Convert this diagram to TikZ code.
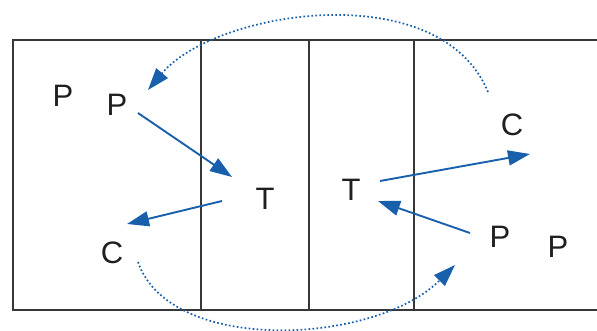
\documentclass[tikz,border=0pt]{standalone}
\usepackage{fontspec}
\setmainfont{Liberation Sans}
\usetikzlibrary{arrows.meta}
\definecolor{moveblue}{RGB}{25,96,172}
\definecolor{courtgray}{RGB}{55,55,55}

\begin{document}
\begin{tikzpicture}[
	x=1pt, y=-1pt,
	every node/.style={font=\fontsize{31}{36}\selectfont, text=black!88, inner sep=2pt},
	court/.style={draw=courtgray, line width=1.8pt},
	flow/.style={draw=moveblue, line width=1.9pt, -{Triangle[length=22pt,width=15pt]}},
	swap/.style={draw=moveblue, line width=1.7pt, dash pattern=on 1.7pt off 2.3pt, -{Triangle[length=22pt,width=15pt]}}
]
\useasboundingbox (0,0) rectangle (597,331);

% court
\draw[court] (597,40) -- (13,40) -- (13,310) -- (597,310);
\foreach \x in {201,309,414}
	\draw[court] (\x,40) -- (\x,310);

% players
\node (pa) at (63,96) {P};
\node (pb) at (117,105) {P};
\node (ta) at (265,199) {T};
\node (ca) at (112,253) {C};
\node (tb) at (351,190) {T};
\node (cb) at (512,125) {C};
\node (pc) at (500,237) {P};
\node (pd) at (558,247) {P};

% moves
\draw[flow] ([shift={(21,8)}]pb.center) -- ([shift={(-33,-22)}]ta.center);
\draw[flow] ([shift={(-43,2)}]ta.center) -- ([shift={(15,-29)}]ca.center);
\draw[flow] ([shift={(29,-9)}]tb.center) -- ([shift={(18,29)}]cb.center);
\draw[flow] ([shift={(-30,-4)}]pc.center) -- ([shift={(27,11)}]tb.center);

% rotation
\draw[swap] ([shift={(-24,-33)}]cb.center) .. controls (440,-25) and (215,10) .. ([shift={(31,-15)}]pb.center);
\draw[swap] ([shift={(26,9)}]ca.center) .. controls (170,355) and (375,345) .. ([shift={(-45,28)}]pc.center);
\end{tikzpicture}
\end{document}
